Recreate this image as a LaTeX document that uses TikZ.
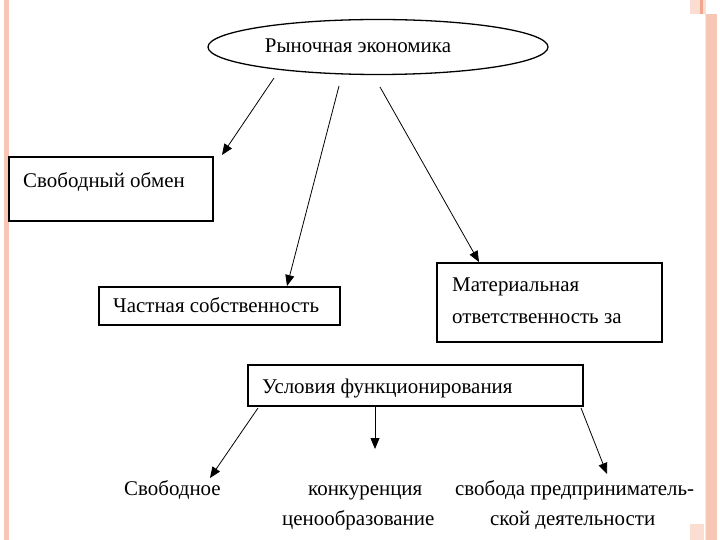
\documentclass[tikz,border=0pt]{standalone}
\usepackage{fontspec}
\setmainfont{Liberation Serif}
\usetikzlibrary{shapes.geometric,arrows.meta}
\definecolor{peach}{HTML}{F8C6B4}
\definecolor{peachdk}{HTML}{F2A68C}
\tikzset{
  box/.style={draw=black, line width=1.3pt, fill=white, inner sep=0pt},
  lbl/.style={font=\fontsize{21}{24}\selectfont, inner sep=0pt, anchor=base west},
  arr/.style={draw=black, line width=0.8pt, -{Triangle[length=11pt,width=9pt]}},
}
\begin{document}
\begin{tikzpicture}[x=1bp,y=-1bp]
\useasboundingbox (0,0) rectangle (720,540);
\fill[white] (0,0) rectangle (720,540);
% decorations
\fill[peach] (4,0) rectangle (9,540);
\fill[peach] (706,14) rectangle (717,540);
\fill[peach!60] (690,0) rectangle (706,14);
\fill[peachdk] (700,0) rectangle (703,14);
\fill[peach!60] (690,524) rectangle (704,540);
\draw[cyan!15, line width=0.8pt] (705,14) -- (705,540);
% ellipse
\node[draw=black, line width=1.3pt, ellipse, minimum width=340bp, minimum height=55bp, inner sep=0pt] (root) at (378,47) {};
\node[lbl, anchor=base] (roott) at (358,53) {Рыночная экономика};
% boxes
\draw[box] (9,157) rectangle (213,221);
\coordinate (b1) at (222,155);
\node[lbl] (t1) at (23,188) {Свободный обмен};
\draw[box] (99,287) rectangle (340,325);
\coordinate (b2) at (287,286);
\node[lbl] (t2) at (113,312) {Частная собственность};
\draw[box] (437,263) rectangle (662,342);
\coordinate (b3) at (479,262);
\node[lbl] (t3a) at (452,291) {Материальная};
\node[lbl] (t3b) at (452,323) {ответственность за};
\draw[box] (248,365) rectangle (583,406);
\node[lbl] (t4) at (262,393) {Условия функционирования};
% top arrows
\coordinate (s1) at (274,78);
\coordinate (s2) at (339,86);
\coordinate (s3) at (380,87);
\draw[arr] (s1) -- (b1);
\draw[arr] (s2) -- (b2);
\draw[arr] (s3) -- (b3);
% bottom
\coordinate (u1) at (258,408);
\coordinate (u2) at (375,406);
\coordinate (u3) at (581,408);
\coordinate (v1) at (210,478);
\coordinate (v2) at (375,449);
\coordinate (v3) at (607,474);
\draw[arr] (u1) -- (v1);
\draw[arr] (u2) -- (v2);
\draw[arr] (u3) -- (v3);
\node[lbl] (c1) at (124,495) {Свободное};
\node[lbl] (c2) at (308,495) {конкуренция};
\node[lbl] (c3) at (282,525) {ценообразование};
\node[lbl] (c4) at (455,495) {свобода предприниматель-};
\node[lbl] (c5) at (490,525) {ской деятельности};
\end{tikzpicture}
\end{document}
